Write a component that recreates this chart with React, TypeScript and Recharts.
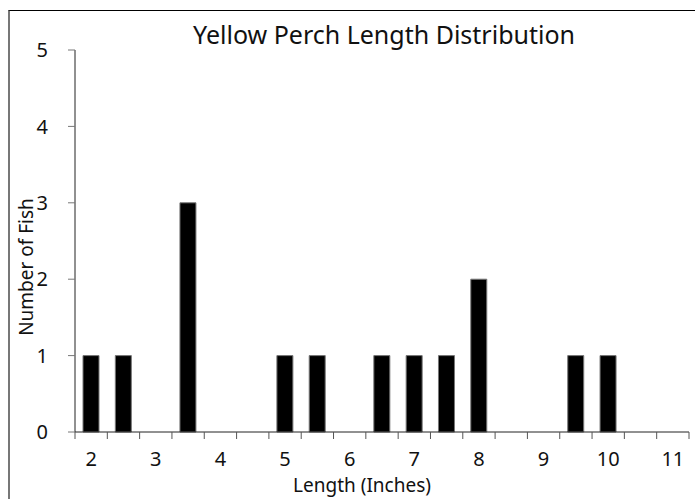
import { BarChart, Bar, XAxis, YAxis } from "recharts";

const lengths = [2, 2.5, 3, 3.5, 4, 4.5, 5, 5.5, 6, 6.5, 7, 7.5, 8, 8.5, 9, 9.5, 10, 10.5, 11];
const fishCounts = [1, 1, 0, 3, 0, 0, 1, 1, 0, 1, 1, 1, 2, 0, 0, 1, 1, 0, 0];
const yTicks = [0, 1, 2, 3, 4, 5];

const data = lengths.map((len, i) => ({ len, count: fishCounts[i] }));

const FONT = "'Noto Sans', sans-serif";

const XTick = (props: any) => {
  const { x, y, payload, index } = props;
  const half = payload?.offset || 16.2;
  const isInt = Number.isInteger(payload.value);
  const last = index === lengths.length - 1;
  return (
    <g>
      <line x1={x - half} x2={x - half} y1={y - 8} y2={y - 1} stroke="#555" />
      {last && <line x1={x + half} x2={x + half} y1={y - 8} y2={y - 1} stroke="#555" />}
      {isInt && (
        <text x={x} y={y + 26} textAnchor="middle" fontSize={20} fill="#111" fontFamily={FONT}>
          {payload.value}
        </text>
      )}
    </g>
  );
};

const YLabel = (props: any) => {
  const { viewBox } = props;
  const cy = viewBox.y + viewBox.height / 2 + 26;
  return (
    <text
      x={16}
      y={cy}
      transform={`rotate(-90, 16, ${cy})`}
      textAnchor="middle"
      dominantBaseline="central"
      fontSize={19}
      fill="#111"
      fontFamily={FONT}
    >
      Number of Fish
    </text>
  );
};

const XLabel = (props: any) => {
  const { viewBox } = props;
  const cx = viewBox.x + viewBox.width / 2 - 20;
  return (
    <text x={cx} y={481} textAnchor="middle" fontSize={19} fill="#111" fontFamily={FONT}>
      Length (Inches)
    </text>
  );
};

export default function App() {
  return (
    <div
      style={{
        position: "fixed",
        left: 8,
        top: 10,
        width: 687,
        height: 489,
        borderTop: "1px solid #000",
        borderLeft: "2px solid #777",
        boxSizing: "border-box",
        background: "#fff",
      }}
    >
      <div
        style={{
          position: "absolute",
          left: 0,
          width: 748,
          top: 6,
          textAlign: "center",
          fontFamily: FONT,
          fontSize: 25,
          color: "#111",
        }}
      >
        Yellow Perch Length Distribution
      </div>
      <BarChart
        width={685}
        height={488}
        data={data}
        margin={{ top: 39, right: 6, left: 0, bottom: 7 }}
        barSize={16}
        style={{ position: "absolute", left: 0, top: 0 }}
      >
        <XAxis
          dataKey="len"
          interval={0}
          tickLine={false}
          tick={<XTick />}
          stroke="#222"
          height={60}
          label={<XLabel />}
        />
        <YAxis
          domain={[0, 5]}
          ticks={yTicks}
          width={65}
          tickSize={7}
          tickMargin={20}
          stroke="#222"
          tickLine={{ stroke: "#777" }}
          tick={{ fontSize: 20, fill: "#111", fontFamily: FONT }}
          label={<YLabel />}
        />
        <Bar dataKey="count" fill="#000" stroke="#777" strokeWidth={1} isAnimationActive={false} />
      </BarChart>
    </div>
  );
}
